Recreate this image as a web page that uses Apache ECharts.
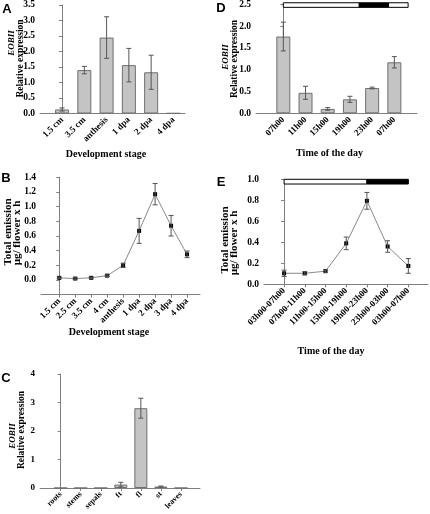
<!DOCTYPE html>
<html><head><meta charset="utf-8">
<script src="https://cdn.jsdelivr.net/npm/echarts@6/dist/echarts.min.js"></script>
<style>html,body{margin:0;padding:0;background:#fff}#c{width:430px;height:514px}</style>
</head><body><div id="c"></div>
<script>
// ---- data ----
const stagesA = ['1.5 cm','3.5 cm','anthesis','1 dpa','2 dpa','4 dpa'];
const exprA   = [0.13, 1.40, 2.45, 1.56, 1.33, 0.01];
const errA    = [0.05, 0.12, 0.67, 0.54, 0.55, 0];

const timesD  = ['07h00','11h00','15h00','19h00','23h00','07h00'];
const exprD   = [1.76, 0.47, 0.10, 0.32, 0.58, 1.17];
const errD    = [0.33, 0.15, 0.03, 0.07, 0.02, 0.13];
const lightD  = [[0, 3.42, 0], [3.42, 4.74, 1], [4.74, 5.62, 0]];

const stagesB = ['1.5 cm','2.5 cm','3.5 cm','4 cm','anthesis','1 dpa','2 dpa','3 dpa','4 dpa'];
const emisB   = [0.03, 0.02, 0.03, 0.06, 0.20, 0.67, 1.17, 0.74, 0.35];
const errB    = [0.01, 0.01, 0.01, 0.01, 0.03, 0.17, 0.145, 0.14, 0.045];

const timesE  = ['03h00-07h00','07h00-11h00','11h00-15h00','15h00-19h00','19h00-23h00','23h00-03h00','03h00-07h00'];
const emisE   = [0.105, 0.105, 0.125, 0.39, 0.795, 0.36, 0.175];
const errE    = [0.03, 0.015, 0.01, 0.06, 0.08, 0.055, 0.07];
const lightE  = [[0, 4, 0], [4, 6, 1]];

const tissuesC = ['roots','stems','sepals','ft','fl','st','leaves'];
const exprC    = [0, 0, 0, 0.12, 2.80, 0.05, 0];
const errC     = [0, 0, 0, 0.08, 0.35, 0.02, 0];

// ---- styling helpers ----
const SERIF = '"Liberation Serif","Times New Roman",serif';
const SANS = '"Liberation Sans",Arial,sans-serif';
const AX = '#7f7f7f';

function grid(left, top, width, height) {
  return {left, top, width, height, containLabel: false, outerBoundsMode: 'none'};
}
function xAx(gi, cats, min, max, fs, ticks) {
  const idx = cats.map((_, i) => i);
  return {
    type: 'value', gridIndex: gi, min, max,
    axisLine: {show: true, onZero: false, lineStyle: {color: AX, width: 1}},
    axisTick: {show: ticks, length: 3, customValues: idx, lineStyle: {color: AX}},
    axisLabel: {customValues: idx, rotate: 45, margin: 5,
      formatter: v => { const c = cats[Math.round(v)]; return c === undefined ? '' : c; },
      fontFamily: SERIF, fontWeight: 'bold', fontSize: fs, color: '#000'},
    splitLine: {show: false}
  };
}
function yAx(gi, min, max, interval, digits, fs) {
  return {
    type: 'value', gridIndex: gi, min, max, interval,
    axisLine: {show: true, lineStyle: {color: AX, width: 1}},
    axisTick: {show: true, length: 3, lineStyle: {color: AX}},
    axisLabel: {margin: 5, fontFamily: SERIF, fontWeight: 'bold', fontSize: fs, color: '#000',
      formatter: v => v < -1e-9 ? '' : v.toFixed(digits)},
    splitLine: {show: false}
  };
}
function errRender(params, api) {
  const x = api.value(0), y = api.value(1), e = api.value(2);
  if (!e) return null;
  const p1 = api.coord([x, y + e]), p2 = api.coord([x, y - e]);
  const hw = 2.5, st = {stroke: '#555', lineWidth: 1};
  return {type: 'group', children: [
    {type: 'line', shape: {x1: p1[0], y1: p1[1], x2: p2[0], y2: p2[1]}, style: st},
    {type: 'line', shape: {x1: p1[0] - hw, y1: p1[1], x2: p1[0] + hw, y2: p1[1]}, style: st},
    {type: 'line', shape: {x1: p2[0] - hw, y1: p2[1], x2: p2[0] + hw, y2: p2[1]}, style: st}
  ]};
}
function errSeries(gi, vals, errs) {
  return {type: 'custom', xAxisIndex: gi, yAxisIndex: gi, z: 5, clip: false,
    data: vals.map((v, i) => [i, v, errs[i]]), renderItem: errRender};
}
function barSeries(gi, vals, w) {
  return {type: 'bar', xAxisIndex: gi, yAxisIndex: gi, barWidth: w,
    data: vals.map((v, i) => [i, v]),
    itemStyle: {color: '#c4c4c4', borderColor: '#6f6f6f', borderWidth: 1}};
}
function lineSeries(gi, vals) {
  return {type: 'line', xAxisIndex: gi, yAxisIndex: gi, z: 4,
    data: vals.map((v, i) => [i, v]),
    symbol: 'rect', symbolSize: 4,
    lineStyle: {color: '#8a8a8a', width: 1},
    itemStyle: {color: '#000'}};
}
function lightSeries(gi, segs, yTop, yBot) {
  return {type: 'custom', xAxisIndex: gi, yAxisIndex: gi, z: 6, clip: false,
    data: segs,
    renderItem: (params, api) => {
      const a = api.coord([api.value(0), yTop]), b = api.coord([api.value(1), yBot]);
      return {type: 'rect', shape: {x: a[0], y: a[1], width: b[0] - a[0], height: b[1] - a[1]},
        style: {fill: api.value(2) ? '#000' : '#fff', stroke: '#000', lineWidth: 1}};
    }};
}
function vtext(x, y, text, fs, italic) {
  return {type: 'text', x, y, rotation: Math.PI / 2,
    style: {text, fontFamily: SERIF, fontWeight: 'bold', fontStyle: italic ? 'italic' : 'normal',
      fontSize: fs, fill: '#000', align: 'center', verticalAlign: 'middle'}};
}
function htext(x, y, text, fs) {
  return {type: 'text', x, y,
    style: {text, fontFamily: SERIF, fontWeight: 'bold', fontSize: fs, fill: '#000',
      align: 'center', verticalAlign: 'middle'}};
}
function letter(x, y, text) {
  return {type: 'text', x, y,
    style: {text, fontFamily: SANS, fontWeight: 'bold', fontSize: 13, fill: '#000',
      align: 'center', verticalAlign: 'middle'}};
}

const chart = echarts.init(document.getElementById('c'), null, {renderer: 'canvas'});
chart.setOption({
  animation: false,
  backgroundColor: '#fff',
  grid: [
    grid(40, 5, 145, 108.5),      // A
    grid(256, 4.3, 161, 109),     // D
    grid(41, 177.3, 159, 117.4),  // B
    grid(264, 179.3, 164, 105),   // E
    grid(40, 374, 160, 114)       // C
  ],
  xAxis: [
    xAx(0, stagesA, -0.99, 5.52, 9, false),
    xAx(1, timesD, -1.23, 6.02, 9, false),
    xAx(2, stagesB, -1.14, 8.81, 9, true),
    xAx(3, timesE, -0.97, 6.95, 9, true),
    xAx(4, tissuesC, -1.03, 6.95, 8, true)
  ],
  yAxis: [
    yAx(0, 0, 3.5, 0.5, 1, 9.5),
    yAx(1, 0, 2.5, 0.5, 1, 9.5),
    yAx(2, -0.2, 1.4, 0.2, 1, 9.5),
    yAx(3, 0, 1.0, 0.2, 1, 9.5),
    yAx(4, 0, 4, 1, 0, 9)
  ],
  series: [
    barSeries(0, exprA, 14), errSeries(0, exprA, errA),
    barSeries(1, exprD, 14), errSeries(1, exprD, errD), lightSeries(1, lightD, 2.535, 2.43),
    lineSeries(2, emisB), errSeries(2, emisB, errB),
    lineSeries(3, emisE), errSeries(3, emisE, errE), lightSeries(3, lightE, 1.0, 0.955),
    barSeries(4, exprC, 13), errSeries(4, exprC, errC)
  ],
  graphic: [
    letter(7, 9, 'A'), letter(221, 8, 'D'), letter(6, 178, 'B'), letter(221, 182, 'E'), letter(6, 378, 'C'),
    vtext(11.5, 43, 'EOBII', 9, true), vtext(20.5, 58.5, 'Relative expression', 9.5, false),
    vtext(226, 57, 'EOBII', 9, true), vtext(234.5, 59, 'Relative expression', 9.5, false),
    vtext(13, 436, 'EOBII', 9, true), vtext(21.5, 430, 'Relative expression', 9.5, false),
    vtext(8, 232, 'Total emission', 11, false), vtext(17, 233, 'µg/ flower x h', 11, false),
    vtext(225.5, 240, 'Total emission', 11, false), vtext(234.5, 243, 'µg/ flower x h', 11, false),
    htext(106, 154, 'Development stage', 10),
    htext(109, 332, 'Development stage', 10),
    htext(329.5, 153, 'Time of the day', 10),
    htext(331, 351, 'Time of the day', 10)
  ]
});
</script>
</body></html>
